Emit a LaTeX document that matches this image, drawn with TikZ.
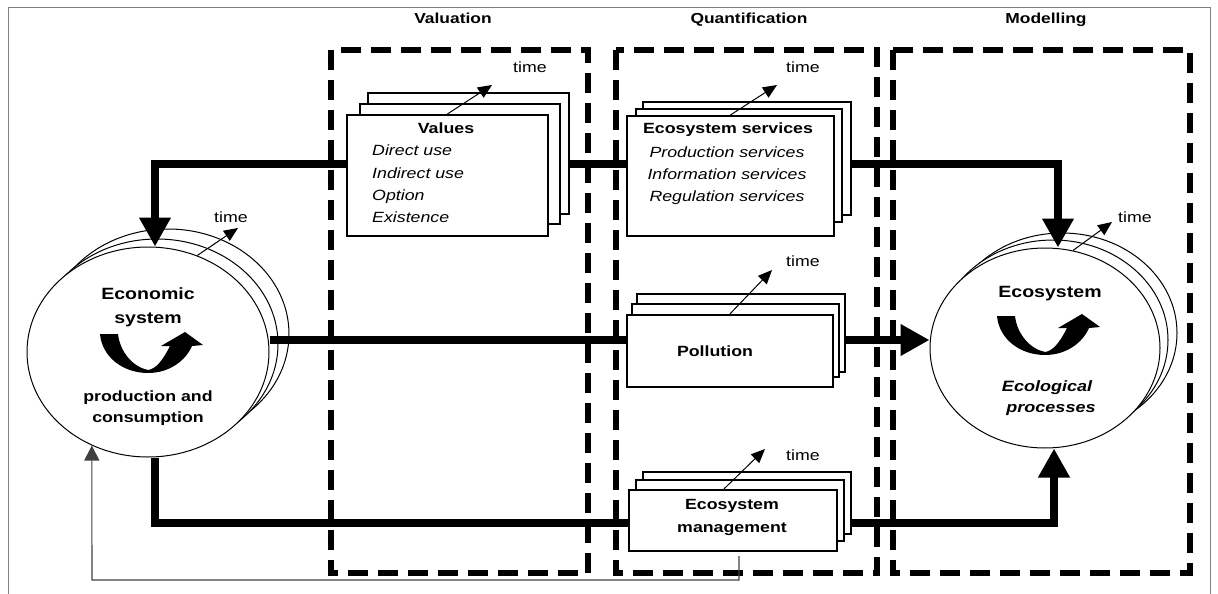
\documentclass[tikz,border=0pt]{standalone}
\usepackage{fontspec}
\setmainfont[FakeStretch=1.2]{Liberation Sans}
\usetikzlibrary{arrows.meta,calc,shapes.geometric}
\begin{document}
\begin{tikzpicture}[x=1pt,y=-1pt,
  zone/.style={line width=5.5pt, dash pattern=on 20pt off 10pt},
  flow/.style={line width=7.5pt},
  bigtip/.style={-{Triangle[width=30pt,length=29pt]}},
  card/.style={draw, fill=white, line width=1.8pt, inner sep=0pt, anchor=north west},
  orb/.style={draw, fill=white, ellipse, line width=1pt, inner sep=0pt},
  tarrow/.style={line width=1pt, -{Triangle[width=12pt,length=14pt]}},
  fbline/.style={draw=black!75, line width=1.1pt},
  head/.style={anchor=base, inner sep=0pt, font=\bfseries\fontsize{14.5}{17}\selectfont},
  ttl/.style={anchor=base, inner sep=0pt, font=\bfseries\fontsize{14.8}{17}\selectfont},
  big/.style={anchor=base, inner sep=0pt, font=\bfseries\fontsize{16.3}{19}\selectfont},
  itm/.style={anchor=base west, inner sep=0pt, font=\itshape\fontsize{14.8}{17}\selectfont},
  itc/.style={anchor=base, inner sep=0pt, font=\itshape\fontsize{14.8}{17}\selectfont},
  bit/.style={anchor=base, inner sep=0pt, font=\bfseries\itshape\fontsize{15}{17}\selectfont},
  tim/.style={anchor=base, inner sep=0pt, font=\fontsize{14.8}{17}\selectfont},
  cycsym/.pic={\fill (-48,-38) .. controls (-46,-15) and (-25,1) .. (0,1)
     .. controls (22,1) and (38,-12) .. (44,-26) -- (55,-27) -- (37,-40) -- (13,-26) -- (22,-26)
     .. controls (15,-12) and (8,-3) .. (0,-2) .. controls (-15,-5) and (-28,-20) .. (-30,-38) -- cycle;}
]
\useasboundingbox (0,0) rectangle (1218,594);
% outer frame
\draw[black!50, line width=1pt] (8.5,594) -- (8.5,7.5) -- (1210,7.5) -- (1210,594);

% headings
\node[head] (hV) at (453,24) {Valuation};
\node[head] (hQ) at (749,24) {Quantification};
\node[head] (hM) at (1046,24) {Modelling};

% dashed zones
\draw[zone] (331,50) rectangle (588,573);
\draw[zone] (616,50) rectangle (877,573);
\draw[zone] (893,50) rectangle (1190,573);

% ellipses
\node[orb, minimum width=242pt, minimum height=210pt] (econ3) at (168,334) {};
\node[orb, minimum width=242pt, minimum height=210pt] (econ2) at (157,344) {};
\node[orb, minimum width=242pt, minimum height=210pt] (econ) at (148,352) {};
\node[orb, minimum width=230pt, minimum height=200pt] (eco3) at (1062,333) {};
\node[orb, minimum width=230pt, minimum height=200pt] (eco2) at (1053,340) {};
\node[orb, minimum width=230pt, minimum height=200pt] (eco) at (1045,348) {};

% thick flows
\coordinate (tl) at (155,164);
\coordinate (tr) at (1058,164);
\draw[flow, {Triangle[width=30pt,length=29pt]}-{Triangle[width=30pt,length=29pt]}]
  (econ.north -| tl) -- (tl) -- (tr) -- (eco.north -| tr);
\coordinate (my) at (0,340);
\draw[flow, bigtip] (econ.east |- my) -- (eco.west |- my);
\coordinate (bl) at (155,523);
\coordinate (br) at (1054,523);
\draw[flow, bigtip] (econ.south -| bl) -- (bl) -- (br) -- (eco.south -| br);

% feedback line
\coordinate (fb1) at (739,556);
\coordinate (fb2) at (739,580);
\coordinate (fb3) at (92,580);
\draw[fbline, -{Triangle[width=15pt,length=15pt]}] (fb1) -- (fb2) -- (fb3) -- (econ.239);

% card stacks
\node[card, minimum width=201pt, minimum height=121pt] (val3) at (367,92) {};
\node[card, minimum width=200pt, minimum height=120pt] (val2) at (359,103) {};
\node[card, minimum width=201pt, minimum height=121pt] (val) at (346,114) {};

\node[card, minimum width=208pt, minimum height=113pt] (es3) at (642,101) {};
\node[card, minimum width=206pt, minimum height=113pt] (es2) at (635,108) {};
\node[card, minimum width=207pt, minimum height=120pt] (es) at (626,115) {};

\node[card, minimum width=208pt, minimum height=78pt] (pol3) at (636,293) {};
\node[card, minimum width=207pt, minimum height=73pt] (pol2) at (631,303) {};
\node[card, minimum width=206pt, minimum height=72pt] (pol) at (626,314) {};

\node[card, minimum width=208pt, minimum height=62pt] (mgmt3) at (642,471) {};
\node[card, minimum width=208pt, minimum height=61pt] (mgmt2) at (635,479) {};
\node[card, minimum width=208pt, minimum height=61pt] (mgmt) at (628,489) {};

% time arrows
\coordinate (tV) at (492,85);
\draw[tarrow] (val.north) -- (tV);
\coordinate (tE) at (777,85);
\draw[tarrow] (es.north) -- (tE);
\coordinate (tP) at (772,270);
\draw[tarrow] (pol.north) -- (tP);
\coordinate (tM) at (765,449);
\draw[tarrow] ($(mgmt.north)+(-9,0)$) -- (tM);
\coordinate (tC) at (238,228);
\draw[tarrow] (econ.63) -- (tC);
\coordinate (tO) at (1112,222);
\draw[tarrow] (eco.74) -- (tO);

\node[tim] (timeV) at (530,73) {time};
\node[tim] (timeE) at (803,73) {time};
\node[tim] (timeP) at (803,266) {time};
\node[tim] (timeM) at (803,460) {time};
\node[tim] (timeC) at (231,222) {time};
\node[tim] (timeO) at (1135,222) {time};

% texts
\node[ttl] (valT) at (446,133) {Values};
\node[itm] (v1) at (372,155) {Direct use};
\node[itm] (v2) at (372,178) {Indirect use};
\node[itm] (v3) at (372,200) {Option};
\node[itm] (v4) at (372,222) {Existence};

\node[ttl] (esT) at (728,133) {Ecosystem services};
\node[itc] (e1) at (727,157) {Production services};
\node[itc] (e2) at (727,179) {Information services};
\node[itc] (e3) at (727,201) {Regulation services};

\node[ttl] (polT) at (715,356) {Pollution};
\node[ttl] (mgT1) at (732,509) {Ecosystem};
\node[ttl] (mgT2) at (732,532) {management};

\node[big] (ecT1) at (148,299) {Economic};
\node[big] (ecT2) at (148,323) {system};
\node[ttl] (ecT3) at (148,401) {production and};
\node[ttl] (ecT4) at (148,422) {consumption};
\pic at (148,372) {cycsym};

\node[big] (eoT1) at (1050,297) {Ecosystem};
\node[bit] (eoT2) at (1047,391) {Ecological};
\node[bit] (eoT3) at (1051,412) {processes};
\pic at (1045,354) {cycsym};
\end{tikzpicture}
\end{document}
